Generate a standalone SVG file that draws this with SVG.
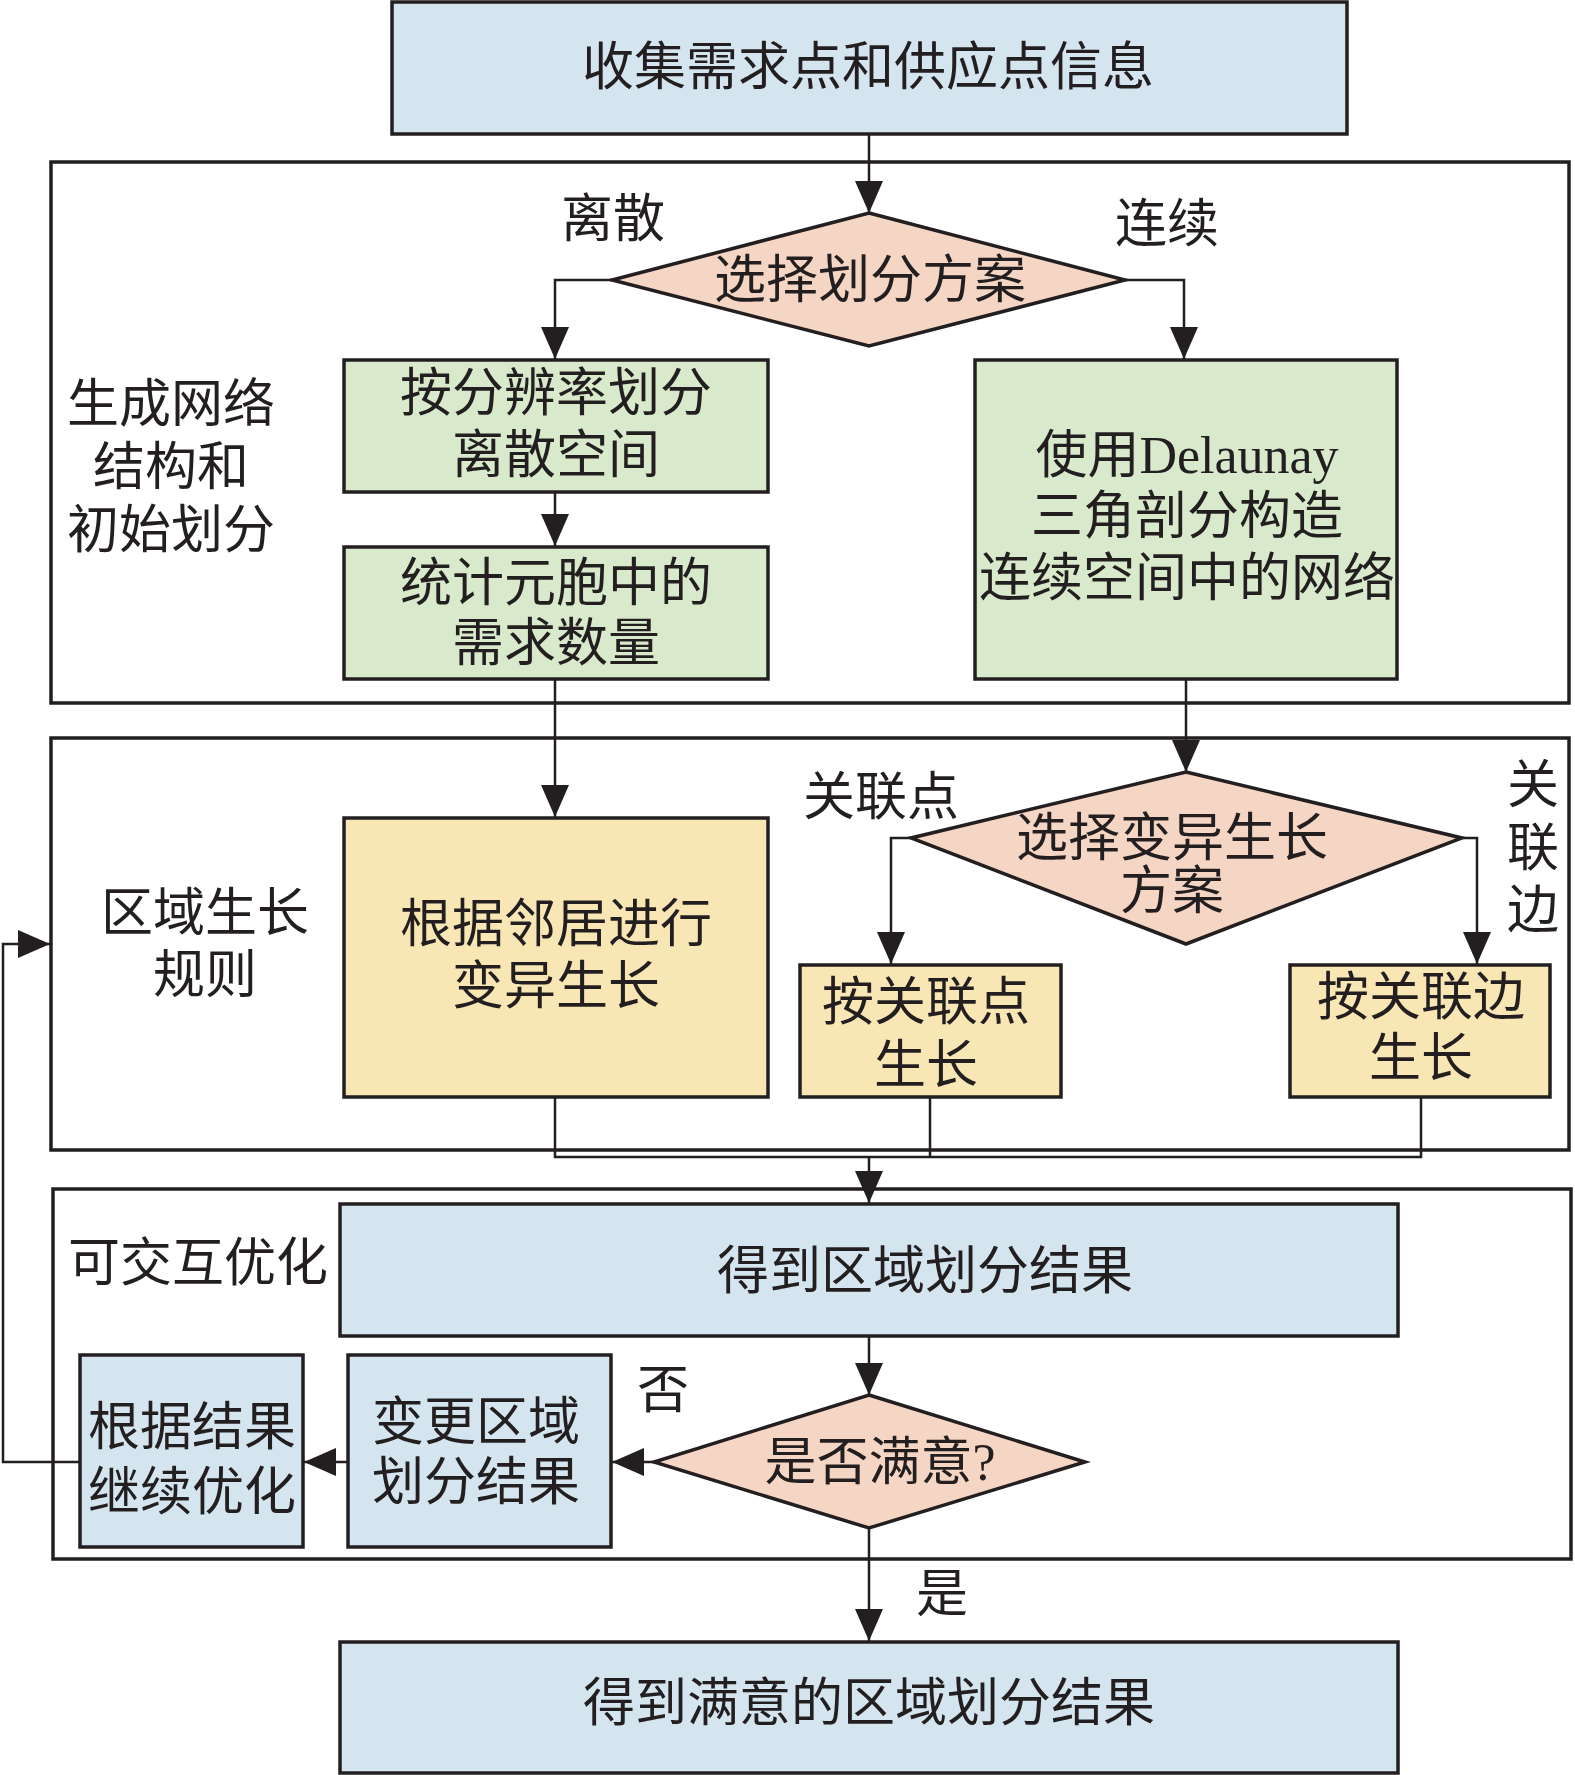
<svg xmlns="http://www.w3.org/2000/svg" width="1575" height="1775" viewBox="0 0 1575 1775">
<defs>
<style>
.frame{fill:none;stroke:#231f20;stroke-width:3.5}
.blue{fill:#d5e5ef;stroke:#231f20;stroke-width:3.5}
.green{fill:#d8eacb;stroke:#231f20;stroke-width:3.5}
.yellow{fill:#f8e7b5;stroke:#231f20;stroke-width:3.5}
.dia{fill:#f5d6c4;stroke:#231f20;stroke-width:3.5}
.ln{fill:none;stroke:#231f20;stroke-width:2.5}
.arr{marker-end:url(#ah)}
text{font-family:"Liberation Serif","Noto Sans CJK SC",serif;font-size:52px;fill:#231f20;text-anchor:middle;dominant-baseline:central}
</style>
<marker id="ah" markerUnits="userSpaceOnUse" markerWidth="34" markerHeight="30" refX="32" refY="14" orient="auto">
<path d="M0,0 L32,14 L0,28 z" fill="#231f20"/>
</marker>
</defs>
<g id="frames">
<rect class="frame" x="51" y="162" width="1518" height="541"/>
<rect class="frame" x="51" y="738" width="1518" height="412"/>
<rect class="frame" x="53" y="1189" width="1518" height="370"/>
</g>
<g id="connectors">
<path class="ln arr" d="M869,134 V213"/>
<path class="ln arr" d="M612,280 H555 V359"/>
<path class="ln arr" d="M1125,280 H1184 V359"/>
<path class="ln arr" d="M555,492 V546"/>
<path class="ln arr" d="M555,679 V817"/>
<path class="ln arr" d="M1186,679 V772"/>
<path class="ln arr" d="M911,838 H891 V964"/>
<path class="ln arr" d="M1462,838 H1477 V964"/>
<path class="ln" d="M555,1097 V1157 H1421 V1097"/>
<path class="ln" d="M930,1097 V1157"/>
<path class="ln arr" d="M869,1157 V1203"/>
<path class="ln arr" d="M869,1336 V1395"/>
<path class="ln arr" d="M654,1462 H612"/>
<path class="ln arr" d="M347,1462 H304"/>
<path class="ln arr" d="M79,1462 H3 V944 H50"/>
<path class="ln arr" d="M869,1528 V1641"/>
</g>
<g id="node-collect">
<rect class="blue" x="392" y="2" width="955" height="132"/>
<text x="868" y="67">收集需求点和供应点信息</text>
</g>
<g id="label-gen">
<text x="171" y="404">生成网络</text>
<text x="171" y="467">结构和</text>
<text x="171" y="530">初始划分</text>
</g>
<g id="node-choose">
<polygon class="dia" points="869,213 1125,280 869,346 612,280"/>
<text x="870" y="280">选择划分方案</text>
</g>
<g id="label-discrete"><text x="613" y="219">离散</text></g>
<g id="label-continuous"><text x="1167" y="224">连续</text></g>
<g id="node-res">
<rect class="green" x="344" y="360" width="424" height="132"/>
<text x="556" y="393">按分辨率划分</text>
<text x="556" y="455">离散空间</text>
</g>
<g id="node-count">
<rect class="green" x="344" y="547" width="424" height="132"/>
<text x="556" y="583">统计元胞中的</text>
<text x="556" y="643">需求数量</text>
</g>
<g id="node-delaunay">
<rect class="green" x="975" y="360" width="422" height="319"/>
<text x="1187" y="455">使用Delaunay</text>
<text x="1187" y="516">三角剖分构造</text>
<text x="1187" y="578">连续空间中的网络</text>
</g>
<g id="label-grow">
<text x="205" y="913">区域生长</text>
<text x="205" y="975">规则</text>
</g>
<g id="node-neighbor">
<rect class="yellow" x="344" y="818" width="424" height="279"/>
<text x="556" y="924">根据邻居进行</text>
<text x="556" y="986">变异生长</text>
</g>
<g id="node-choose2">
<polygon class="dia" points="1186,772 1462,838 1186,944 911,838"/>
<text x="1172" y="838">选择变异生长</text>
<text x="1172" y="891">方案</text>
</g>
<g id="label-point"><text x="881" y="797">关联点</text></g>
<g id="label-edge">
<text x="1533" y="785">关</text>
<text x="1533" y="848">联</text>
<text x="1533" y="910">边</text>
</g>
<g id="node-bypoint">
<rect class="yellow" x="800" y="965" width="261" height="132"/>
<text x="926" y="1002">按关联点</text>
<text x="926" y="1065">生长</text>
</g>
<g id="node-byedge">
<rect class="yellow" x="1290" y="965" width="260" height="132"/>
<text x="1421" y="997">按关联边</text>
<text x="1421" y="1058">生长</text>
</g>
<g id="label-interactive"><text x="198" y="1263">可交互优化</text></g>
<g id="node-result">
<rect class="blue" x="340" y="1204" width="1058" height="132"/>
<text x="925" y="1271">得到区域划分结果</text>
</g>
<g id="node-satisfied">
<polygon class="dia" points="869,1395 1085,1462 869,1528 654,1462"/>
<text x="880" y="1462">是否满意?</text>
</g>
<g id="label-no"><text x="663" y="1390">否</text></g>
<g id="label-yes"><text x="942" y="1594">是</text></g>
<g id="node-change">
<rect class="blue" x="348" y="1355" width="263" height="192"/>
<text x="476" y="1422">变更区域</text>
<text x="476" y="1482">划分结果</text>
</g>
<g id="node-continue">
<rect class="blue" x="80" y="1355" width="223" height="192"/>
<text x="192" y="1427">根据结果</text>
<text x="192" y="1492">继续优化</text>
</g>
<g id="node-final">
<rect class="blue" x="340" y="1642" width="1058" height="131"/>
<text x="869" y="1703">得到满意的区域划分结果</text>
</g>
</svg>
